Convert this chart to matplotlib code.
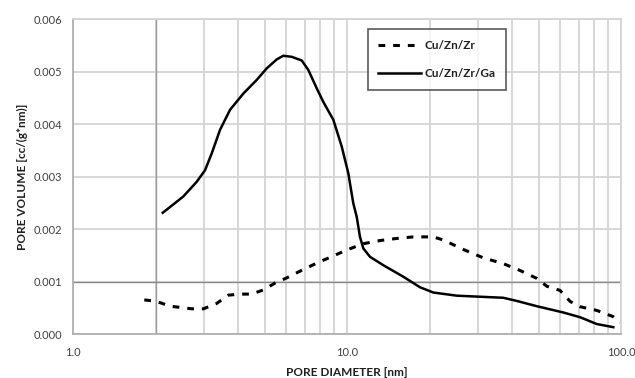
import matplotlib
matplotlib.use("Agg")
import matplotlib.pyplot as plt
from matplotlib.ticker import FixedLocator, NullFormatter, FuncFormatter

# Cu/Zn/Zr (dashed)
d_zr = [1.82, 2.02, 2.26, 2.71, 2.99, 3.34, 3.69, 4.07, 4.49, 4.95, 5.46, 6.03, 6.93, 7.9,
        8.67, 9.97, 11.47, 13.2, 15.18, 17.46, 20.65, 22.47, 26.58, 31.45, 37.19, 42.8,
        49.24, 53.6, 59.9, 65.2, 70.86, 81.5, 93.7, 99.2]
v_zr = [0.00065, 0.00062, 0.00053, 0.00048, 0.00048, 0.00058, 0.00074, 0.00076, 0.00076,
        0.00084, 0.00097, 0.00107, 0.00123, 0.00137, 0.00146, 0.00160, 0.00172, 0.00178,
        0.00182, 0.00185, 0.00185, 0.00179, 0.00161, 0.00145, 0.00134, 0.00121, 0.00106,
        0.00091, 0.00083, 0.00062, 0.00052, 0.00045, 0.00033, 0.00022]

# Cu/Zn/Zr/Ga (solid)
d_ga = [2.126, 2.527, 2.828, 3.032, 3.208, 3.44, 3.741, 4.183, 4.682, 5.093, 5.538, 5.854,
        6.283, 6.833, 7.223, 7.752, 8.195, 8.913, 9.565, 10.11, 10.54, 10.85, 11.15, 11.47,
        12.13, 13.57, 16.06, 18.47, 20.65, 25.15, 30.58, 37.19, 41.63, 49.24, 61.56, 70.86,
        81.52, 93.74]
v_ga = [0.00231, 0.00262, 0.00290, 0.00312, 0.00344, 0.00389, 0.00427, 0.00458, 0.00484,
        0.00506, 0.00523, 0.00530, 0.00528, 0.00521, 0.00503, 0.00468, 0.00442, 0.00408,
        0.00357, 0.00306, 0.00249, 0.00223, 0.00185, 0.00163, 0.00147, 0.00131, 0.00109,
        0.00089, 0.00079, 0.00073, 0.00071, 0.00069, 0.00063, 0.00053, 0.00041, 0.00032,
        0.00019, 0.00013]

series_labels = ["Cu/Zn/Zr", "Cu/Zn/Zr/Ga"]
x_ticks = [1.0, 10.0, 100.0]
y_ticks = [0.000, 0.001, 0.002, 0.003, 0.004, 0.005, 0.006]

plt.rcParams['font.family'] = ['Lato', 'DejaVu Sans']

fig = plt.figure(figsize=(6.35, 3.78), dpi=100)
ax = fig.add_axes([0.115, 0.1164, 0.863, 0.8333])

ax.set_xscale('log')
ax.set_xlim(1, 100)
ax.set_ylim(0, 0.006)

minor = [m * 10**e for e in (0, 1) for m in range(2, 10)]
ax.xaxis.set_major_locator(FixedLocator(x_ticks))
ax.xaxis.set_minor_locator(FixedLocator(minor))
ax.xaxis.set_minor_formatter(NullFormatter())
ax.xaxis.set_major_formatter(FuncFormatter(lambda v, p: f"{v:.1f}"))
ax.yaxis.set_major_locator(FixedLocator(y_ticks))
ax.yaxis.set_major_formatter(FuncFormatter(lambda v, p: f"{v:.3f}"))
ax.grid(True, which='both', axis='x', color='#d4d4d4', lw=1.3)
ax.grid(True, which='major', axis='y', color='#d4d4d4', lw=1.3)
ax.axvline(2, color='#9a9a9a', lw=1.0, zorder=1)
ax.axhline(0.001, color='#8a8a8a', lw=1.0, zorder=1)
ax.set_axisbelow(True)

for s in ax.spines.values():
    s.set_color('#d4d4d4')
    s.set_linewidth(1.3)
ax.spines['left'].set_color('#b0b0b0')
ax.spines['bottom'].set_color('#b0b0b0')

ax.tick_params(which='both', length=0, labelsize=8, colors='#404040', pad=8)
ax.tick_params(axis='x', pad=9)

ax.plot(d_zr, v_zr, color='black', lw=2.2, ls=(0, (2.2, 2.6)), label=series_labels[0])
ax.plot(d_ga, v_ga, color='black', lw=1.8, label=series_labels[1])

leg = ax.legend(loc='upper left', bbox_to_anchor=(0.538, 0.968), frameon=True, fancybox=False,
                edgecolor='#303030', fontsize=8.5, handlelength=3.6, labelspacing=1.5,
                borderpad=0.9, handletextpad=0.3, borderaxespad=0)
leg.get_frame().set_linewidth(1.2)
for t in leg.get_texts():
    t.set_fontweight('bold')
    t.set_color('#202020')

ax.set_xlabel('PORE DIAMETER [nm]', fontsize=8.5, fontweight='bold', labelpad=7, color='#202020')
ax.set_ylabel('PORE VOLUME [cc/(g*nm)]', fontsize=8.5, fontweight='bold', labelpad=4, color='#202020')

fig.savefig('out.png', dpi=100)
